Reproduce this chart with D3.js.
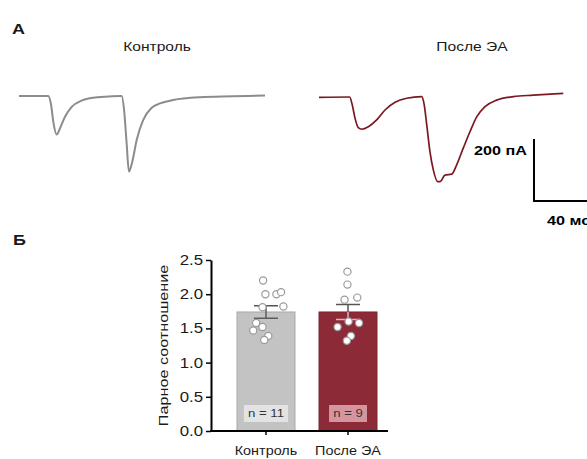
<!DOCTYPE html>
<html>
<head>
<meta charset="utf-8">
<script src="https://cdn.jsdelivr.net/npm/d3@7"></script>
<style>
body{margin:0;background:#fff}
svg{display:block;font-family:"Liberation Sans",Arial,sans-serif}
</style>
</head>
<body>
<svg id="fig" width="587" height="459"></svg>
<script>
'use strict'

// evoked currents, [time ms, current pA]
var ctrlTrace = [[0,0],[20,0],[22,-29],[23.5,-83],[25.8,-124],[28.1,-104],[31.5,-67],[36.1,-35],[42.9,-15],[52.1,-5],[63.5,-1],[70.3,0],[72.1,-51],[73.8,-158],[75.3,-244],[77.6,-212],[80.6,-142],[85.1,-77],[90.9,-38],[96.6,-24],[105.5,-13],[124,-4],[146.6,-1],[168.5,2]];
var eaTrace = [[0,-1],[21,0],[22.8,-26],[24.7,-69],[26.9,-99],[29.2,-104],[33.8,-96],[39.5,-74],[45.2,-42],[52.1,-17],[60.1,-4],[70.3,1],[72.1,-26],[73.8,-90],[76,-176],[78.3,-235],[81.3,-273],[82.9,-273],[86.3,-252],[90.9,-249],[94.3,-219],[98.8,-165],[103.4,-112],[108,-64],[113.7,-31],[121.7,-10],[133.1,1],[146.8,6],[167.3,12]];
var traceTitles = ['Контроль', 'После ЭА'];
var scaleAmp = 200, scaleTime = 40;

// paired-pulse ratio
var groups = ['Контроль', 'После ЭА'];
var means = [1.74, 1.74];
var sems = [0.09, 0.11];
var nLabels = ['n = 11', 'n = 9'];
var ctrlPoints = [2.20, 2.00, 2.00, 2.03, 1.81, 1.82, 1.58, 1.52, 1.47, 1.39, 1.33];
var eaPoints = [2.33, 2.14, 1.92, 1.95, 1.52, 1.60, 1.58, 1.39, 1.32];
var ctrlJitter = [-0.05, -0.01, 0.18, 0.26, -0.06, 0.30, -0.17, -0.06, -0.22, 0.04, -0.03];
var eaJitter = [-0.01, -0.01, -0.06, 0.16, -0.18, 0.01, 0.19, 0.05, -0.02];
var yTicks = [0, 0.5, 1, 1.5, 2, 2.5];

var SX = 1.2; // the lettering in the figure is a bit wider than Liberation Sans

var svg = d3.select('#fig');

function label(x, y, str, size, opt){
	opt = opt || {};
	return svg.append('text')
		.attr('transform', `translate(${x},${y})` + (opt.rot ? ` rotate(${opt.rot})` : '') + ` scale(${SX},1)`)
		.attr('text-anchor', opt.anchor || 'start')
		.attr('font-size', size)
		.attr('font-weight', opt.bold ? 'bold' : 'normal')
		.attr('fill', opt.fill || '#1a1a1a')
		.text(str);
}

// ---- A: traces
label(12, 34, 'А', 15, {bold: true});
label(157, 51, traceTitles[0], 13, {anchor: 'middle'});
label(472, 51, traceTitles[1], 13, {anchor: 'middle'});

var tx = d3.scaleLinear().domain([0, 168.5]).range([0, 246]);
var ty = d3.scaleLinear().domain([0, -200]).range([0, 62]);
var line = d3.line()
	.x(function(d){ return tx(d[0]); })
	.y(function(d){ return ty(d[1]); })
	.curve(d3.curveMonotoneX);

svg.append('g').attr('transform', 'translate(19,96)')
	.append('path')
	.attr('d', line(ctrlTrace))
	.attr('fill', 'none')
	.attr('stroke', '#8c8c8c')
	.attr('stroke-width', 2)
	.attr('stroke-linejoin', 'round');

svg.append('g').attr('transform', 'translate(319,97)')
	.append('path')
	.attr('d', line(eaTrace))
	.attr('fill', 'none')
	.attr('stroke', '#7a1a20')
	.attr('stroke-width', 1.7)
	.attr('stroke-linejoin', 'round');

// scale bar
var sb = svg.append('g').attr('transform', 'translate(534,201)');
sb.append('path')
	.attr('d', `M0,${-(ty(-scaleAmp) - ty(0))}V0H${tx(scaleTime)}`)
	.attr('fill', 'none')
	.attr('stroke', '#000')
	.attr('stroke-width', 2);
label(527, 155, scaleAmp + ' пА', 13.5, {bold: true, anchor: 'end', fill: '#000'});
label(547, 225, scaleTime + ' мс', 13.5, {bold: true, fill: '#000'});

// ---- Б: bars
label(13, 245, 'Б', 15, {bold: true});

var x = d3.scaleBand().domain(groups).range([211, 403]).paddingInner(0.293).paddingOuter(0.317);
var y = d3.scaleLinear().domain([0, 2.5]).range([431, 260]);
var bw = x.bandwidth();
var fills = ['#c3c3c3', '#8d2a37'];
var edges = ['#a8a8a8', '#7c2430'];
var lowErr = ['#5c5c5c', '#e3b2b8'];
var boxFill = ['#e3e3e3', '#d6959e'];
var pts = [ctrlPoints, eaPoints];
var jit = [ctrlJitter, eaJitter];

var gBar = svg.append('g');
groups.forEach(function(g, i){
	var cx = x(g) + bw / 2;
	gBar.append('rect')
		.attr('x', x(g)).attr('y', y(means[i]))
		.attr('width', bw).attr('height', y(0) - y(means[i]))
		.attr('fill', fills[i]).attr('stroke', edges[i]).attr('stroke-width', 1);

	// lower half of error bar sits inside the bar
	gBar.append('path')
		.attr('d', `M${cx},${y(means[i])}V${y(means[i] - sems[i])}M${cx - 12},${y(means[i] - sems[i])}h24`)
		.attr('stroke', lowErr[i]).attr('stroke-width', 1.5).attr('fill', 'none');
	gBar.append('path')
		.attr('d', `M${cx},${y(means[i])}V${y(means[i] + sems[i])}M${cx - 12},${y(means[i] + sems[i])}h24`)
		.attr('stroke', '#555').attr('stroke-width', 1.5).attr('fill', 'none');

	gBar.selectAll(null)
		.data(pts[i])
		.enter().append('circle')
		.attr('cx', function(d, k){ return cx + jit[i][k] * bw; })
		.attr('cy', function(d){ return y(d); })
		.attr('r', 3.6)
		.attr('fill', '#fff')
		.attr('stroke', '#9a9a9a')
		.attr('stroke-width', 1.2);

	var t = label(cx, 417, nLabels[i], 11, {anchor: 'middle', fill: '#333'});
	var w = t.node().getBBox().width * SX + 8;
	gBar.append('rect')
		.attr('x', cx - w / 2).attr('y', 405)
		.attr('width', w).attr('height', 17)
		.attr('fill', boxFill[i]);
	t.raise();
});

// y axis
var yAx = svg.append('g')
	.attr('transform', 'translate(211,0)')
	.call(d3.axisLeft(y).tickValues(yTicks).tickFormat(d3.format('.1f')).tickSize(5).tickSizeOuter(0));
yAx.select('.domain').attr('stroke-width', 2);
yAx.selectAll('.tick line').attr('stroke-width', 1.5);
yAx.selectAll('.tick text')
	.attr('font-size', 14)
	.attr('font-family', '"Liberation Sans",Arial,sans-serif')
	.attr('fill', '#1a1a1a')
	.attr('x', -8 / SX)
	.attr('transform', `scale(${SX},1)`);

// x axis
var xAx = svg.append('g')
	.attr('transform', 'translate(0,431)')
	.call(d3.axisBottom(x).tickSize(4).tickSizeOuter(0));
xAx.select('.domain').remove();
xAx.append('line')
	.attr('x1', 210).attr('x2', 388)
	.attr('stroke', '#000').attr('stroke-width', 2);
xAx.selectAll('.tick line').attr('stroke-width', 1.5);
xAx.selectAll('.tick text')
	.attr('font-size', 12)
	.attr('font-family', '"Liberation Sans",Arial,sans-serif')
	.attr('fill', '#1a1a1a')
	.attr('y', 24).attr('dy', 0)
	.attr('transform', `scale(${SX},1)`);

label(167.5, 345.5, 'Парное соотношение', 13.5, {anchor: 'middle', rot: -90});
</script>
</body>
</html>
